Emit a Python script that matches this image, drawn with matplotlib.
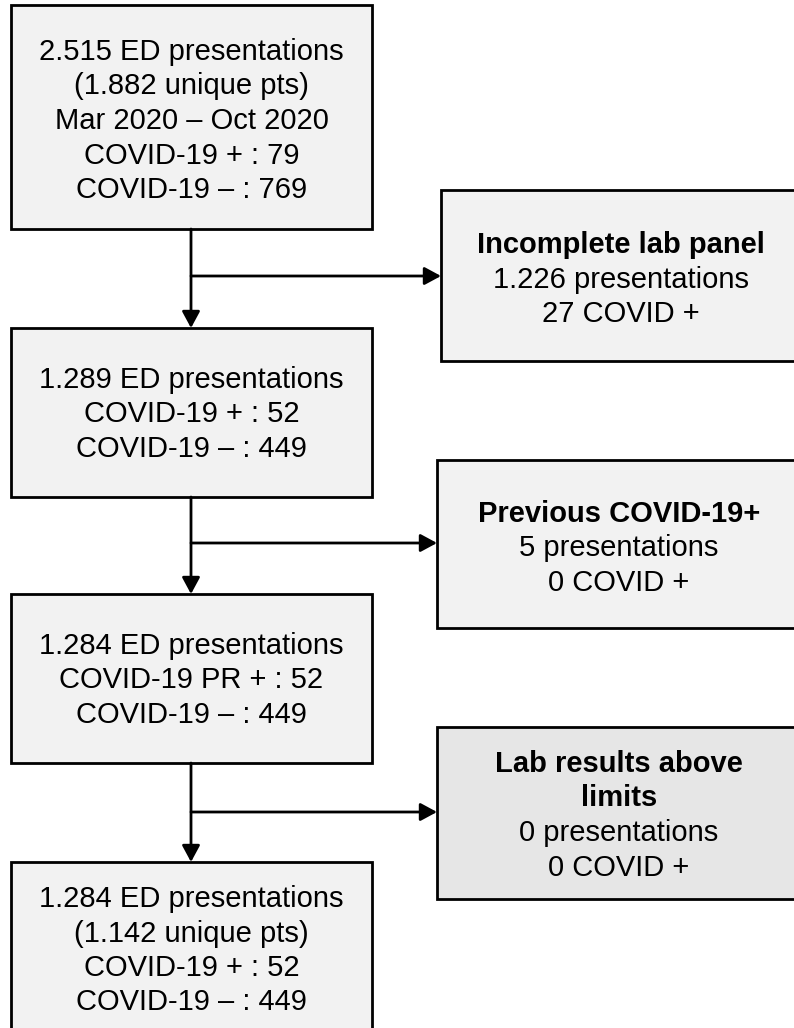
import matplotlib
matplotlib.use("Agg")
import matplotlib.pyplot as plt
from matplotlib.patches import Rectangle, FancyArrowPatch

# ---- data (text content) ----
main_lines = [
    ["2.515 ED presentations", "(1.882 unique pts)", "Mar 2020 \u2013 Oct 2020",
     "COVID-19 + : 79", "COVID-19 \u2013 : 769"],
    ["1.289 ED presentations", "COVID-19 + : 52", "COVID-19 \u2013 : 449"],
    ["1.284 ED presentations", "COVID-19 PR + : 52", "COVID-19 \u2013 : 449"],
    ["1.284 ED presentations", "(1.142 unique pts)", "COVID-19 + : 52",
     "COVID-19 \u2013 : 449"],
]
excl_titles = [["Incomplete lab panel"], ["Previous COVID-19+"],
               ["Lab results above", "limits"]]
excl_counts = ["1.226", "5", "0"]
excl_covid = ["27", "0", "0"]

# ---- layout (pixels) ----
W, H = 794, 1028
main_boxes = [(11, 5, 372, 229), (11, 328, 372, 497), (11, 594, 372, 763),
              (11, 862, 372, 1036)]
main_first = [49, 377, 643, 896]
excl_boxes = [(441, 190, 801, 361), (437, 460, 801, 628), (437, 727, 801, 899)]
excl_first = [242, 511, 761]
excl_fill = ["#f2f2f2", "#f2f2f2", "#e6e6e6"]
arrow_y = [276, 543, 812]
vx = 191
spacing = 34.5
fs = 21
font = "Liberation Sans"

fig = plt.figure(figsize=(W / 100, H / 100), dpi=100)
ax = fig.add_axes([0, 0, 1, 1])
ax.set_xlim(0, W)
ax.set_ylim(H, 0)
ax.axis("off")

def box(x0, y0, x1, y1, fc):
    ax.add_patch(Rectangle((x0, y0), x1 - x0, y1 - y0, facecolor=fc,
                           edgecolor="black", lw=2.0, zorder=2))

def arrow(p0, p1):
    ax.add_patch(FancyArrowPatch(p0, p1, arrowstyle="-|>,head_length=0.5,head_width=0.27",
                                 mutation_scale=20, lw=2.0, color="black",
                                 shrinkA=0, shrinkB=0, zorder=3))

for (x0, y0, x1, y1), lines, fy in zip(main_boxes, main_lines, main_first):
    box(x0, y0, x1, y1, "#f2f2f2")
    cx = (x0 + x1) / 2
    for i, t in enumerate(lines):
        ax.text(cx, fy + i * spacing, t, ha="center", va="center_baseline",
                fontsize=fs, family=font, color="black", zorder=4)

for (x0, y0, x1, y1), titles, cnt, cov, fy, fc in zip(excl_boxes, excl_titles,
                                                      excl_counts, excl_covid,
                                                      excl_first, excl_fill):
    box(x0, y0, x1, y1, fc)
    cx = (x0 + x1) / 2
    lines = [(t, "bold") for t in titles] + [(f"{cnt} presentations", "normal"),
                                             (f"{cov} COVID +", "normal")]
    for i, (t, w) in enumerate(lines):
        ax.text(cx, fy + i * spacing, t, ha="center", va="center_baseline",
                fontsize=fs, family=font, fontweight=w, color="black", zorder=4)

# vertical connectors
for i in range(3):
    arrow((vx, main_boxes[i][3]), (vx, main_boxes[i + 1][1]))
# horizontal exclusion arrows
for y, eb in zip(arrow_y, excl_boxes):
    arrow((vx, y), (eb[0], y))

fig.savefig("out.png", dpi=100, facecolor="white")
